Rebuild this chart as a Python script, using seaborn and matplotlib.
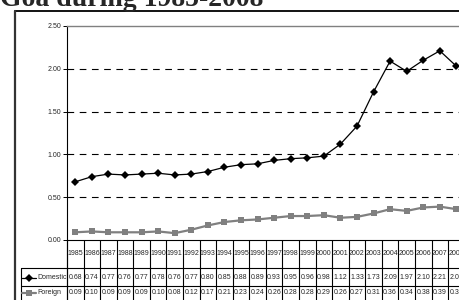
import matplotlib
matplotlib.use("Agg")
import matplotlib.pyplot as plt
import matplotlib.transforms as mtransforms
from matplotlib import font_manager
import seaborn as sns
import pandas as pd

years = [str(y) for y in range(1985, 2009)]
domestic = [0.68, 0.74, 0.77, 0.76, 0.77, 0.78, 0.76, 0.77, 0.80, 0.85, 0.88, 0.89,
            0.93, 0.95, 0.96, 0.98, 1.12, 1.33, 1.73, 2.09, 1.97, 2.10, 2.21, 2.03]
foreign = [0.09, 0.10, 0.09, 0.09, 0.09, 0.10, 0.08, 0.12, 0.17, 0.21, 0.23, 0.24,
           0.26, 0.28, 0.28, 0.29, 0.26, 0.27, 0.31, 0.36, 0.34, 0.38, 0.39, 0.36]
series_names = ["Domestic", "Foreign"]
yticks = [0.0, 0.5, 1.0, 1.5, 2.0, 2.5]
title = "Goa during 1985-2008"

sns.set_theme(style="white")
names = {f.name for f in font_manager.fontManager.ttflist}
narrow = "Liberation Sans Narrow" if "Liberation Sans Narrow" in names else "Liberation Sans"
plt.rcParams["font.family"] = [narrow, "DejaVu Sans"]

W, H = 460, 300
fig = plt.figure(figsize=(W / 100, H / 100), dpi=100)
fig.patch.set_facecolor("white")

ncol = len(years)
colw = 16.57
ax_left, ax_top, ax_bottom = 67, 26, 240
ax = fig.add_axes([ax_left / W, 1 - ax_bottom / H, ncol * colw / W, (ax_bottom - ax_top) / H])
ax.set_facecolor("white")

df = pd.DataFrame({
    "x": list(range(ncol)) * 2,
    "value": domestic + foreign,
    "series": [series_names[0]] * ncol + [series_names[1]] * ncol,
})
colors = {"Domestic": "black", "Foreign": "#808080"}
sns.lineplot(data=df, x="x", y="value", hue="series", style="series",
             palette=colors, markers={"Domestic": "D", "Foreign": "s"},
             dashes=False, ax=ax, legend=False, markeredgewidth=0)
for line in ax.lines:
    if line.get_color() in ("black", "#000000"):
        line.set_linewidth(0.9)
        line.set_markersize(3.6)
    else:
        line.set_linewidth(1.6)
        line.set_markersize(4.0)

ax.set_xlim(-0.5, ncol - 0.5)
ax.set_ylim(0, 2.5)
ax.set_yticks(yticks)
ax.set_yticklabels([f"{v:.2f}" for v in yticks], fontsize=5)
ax.set_xticks([])
ax.set_xlabel("")
ax.set_ylabel("")
ax.tick_params(axis="y", length=3, width=0.7, color="black", pad=1, left=True)
for v in yticks[1:-1]:
    ax.axhline(v, color="black", lw=0.8, dashes=(6, 5), zorder=0)
for s in ["left", "bottom"]:
    ax.spines[s].set_color("black")
    ax.spines[s].set_linewidth(0.8)
ax.spines["top"].set_visible(True)
ax.spines["top"].set_color("#808080")
ax.spines["top"].set_linewidth(1.0)
ax.spines["right"].set_visible(False)

# table under the axis
tr = mtransforms.blended_transform_factory(ax.transData, fig.transFigure)
def fy(py):
    return 1 - py / H
row_year, row1, row2, row_end = 240, 268, 286, 304
for i in range(ncol + 1):
    ax.plot([i - 0.5, i - 0.5], [fy(row_year), fy(row_end)], transform=tr,
            color="black", lw=0.8, clip_on=False)
ftr = fig.transFigure
for py in (row1, row2):
    fig.add_artist(plt.Line2D([21 / W, 1.0], [fy(py), fy(py)], transform=ftr, color="black", lw=0.8))
fig.add_artist(plt.Line2D([21 / W, 21 / W], [fy(row1), fy(row_end)], transform=ftr, color="black", lw=0.8))
fig.add_artist(plt.Line2D([ax_left / W, ax_left / W], [fy(row_year), fy(row_end)], transform=ftr, color="black", lw=0.8))

for i, y in enumerate(years):
    ax.text(i, fy(253.5), y, transform=tr, ha="center", va="center", fontsize=5)
for i, (d, f) in enumerate(zip(domestic, foreign)):
    ax.text(i, fy(277.5), f"{d:.2f}", transform=tr, ha="center", va="center", fontsize=5)
    ax.text(i, fy(293), f"{f:.2f}", transform=tr, ha="center", va="center", fontsize=5)

# legend keys in row headers
for name, py, mk, ms, lw in [("Domestic", 277.5, "D", 3.6, 0.9), ("Foreign", 293, "s", 4.0, 1.6)]:
    fig.add_artist(plt.Line2D([22 / W, 36 / W], [fy(py), fy(py)], transform=ftr, color=colors[name], lw=lw))
    fig.add_artist(plt.Line2D([29 / W], [fy(py)], transform=ftr, color=colors[name], marker=mk,
                              markersize=ms, markeredgewidth=0, lw=0))
    fig.text(37 / W, fy(py), name, ha="left", va="center", fontsize=5)

# outer chart frame
fig.add_artist(plt.Line2D([15 / W, 1.0], [fy(11), fy(11)], transform=ftr, color="black", lw=1.3))
fig.add_artist(plt.Line2D([15 / W, 15 / W], [fy(11), 0], transform=ftr, color="#333333", lw=1.6))

fig.text(0.0, fy(6), title, ha="left", va="baseline", fontsize=20, fontweight="bold",
         family=["Liberation Serif", "DejaVu Serif"])

fig.savefig("out.png", dpi=100, facecolor="white")
